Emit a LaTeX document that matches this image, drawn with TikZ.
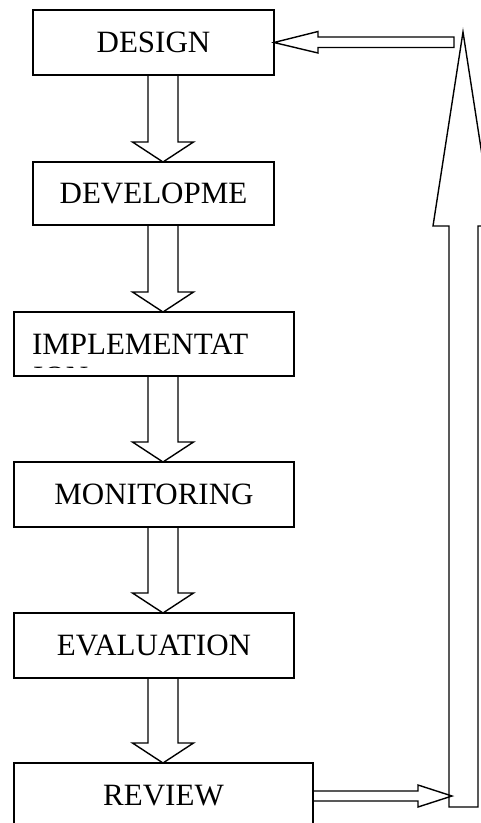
\documentclass[tikz,border=0pt]{standalone}
\usepackage{fontspec}
\setmainfont{Liberation Serif}
\usetikzlibrary{calc}
\newcommand{\stagefont}{\fontsize{31}{36}\selectfont}
\tikzset{
  stage/.style={draw,line width=1.4pt,inner sep=0pt,outer sep=0pt,font=\stagefont},
  blockarrow/.style={draw,line width=1.4pt,line join=miter},
}

\begin{document}
\begin{tikzpicture}[x=1pt,y=-1pt]
  \useasboundingbox (0,0) rectangle (481,823);% page, y grows downwards

  % the stages
  \node[stage,minimum width=241pt,minimum height=65pt] (design) at (153.5,42.5) {DESIGN};
  \node[stage,minimum width=241pt,minimum height=63pt] (develop) at (153.5,193.5) {DEVELOPME};
  \node[stage,minimum height=64pt,text width=244pt,inner xsep=18pt,align=left] (impl) at (154,344) {IMPLEMENTAT};
  \node[stage,minimum width=280pt,minimum height=65pt] (monitor) at (154,494.5) {MONITORING};
  \node[stage,minimum width=280pt,minimum height=65pt] (eval) at (154,645.5) {EVALUATION};
  \node[stage,minimum width=299pt,minimum height=65pt] (review) at (163.5,795.5) {REVIEW};

  % second line of the implementation box, cut off by the box
  \begin{scope}
    \clip (15,313) rectangle (293,367);
    \node[font=\stagefont,inner sep=0pt,anchor=base west] (ion) at (33,387.5) {ION};
  \end{scope}

  % block arrows between the stages
  \coordinate (ax) at (163,0);% axis of the down arrows
  \def\shaft{15}
  \def\head{30.5}
  \foreach \a/\b in {design/develop,develop/impl,impl/monitor,monitor/eval,eval/review}{
    \draw[blockarrow] ($(\a.south -| ax)+(-\shaft,0)$) -- ($(\b.north -| ax)+(-\shaft,-20)$)
      -- ($(\b.north -| ax)+(-\head,-20)$) -- (\b.north -| ax)
      -- ($(\b.north -| ax)+(\head,-20)$) -- ($(\b.north -| ax)+(\shaft,-20)$)
      -- ($(\a.south -| ax)+(\shaft,0)$);
  }

  % feedback loop
  \draw[blockarrow] (449,807) -- (449,226) -- (433,226) -- (463,32) -- (493,226) -- (478,226) -- (478,807) -- cycle;% big up arrow
  \draw[blockarrow] ($(review.east)+(0,-4.5)$) -- ++(105,0) -- ++(0,-6) -- ++(34,11) -- ++(-34,11) -- ++(0,-6) -- ++(-105,0);% review to loop
  \draw[blockarrow] (design.east) -- ++(44,-11) -- ++(0,5.5) -- ++(136,0) -- ++(0,10.5) -- ++(-136,0) -- ++(0,5.5) -- cycle;% loop to design
\end{tikzpicture}
\end{document}
